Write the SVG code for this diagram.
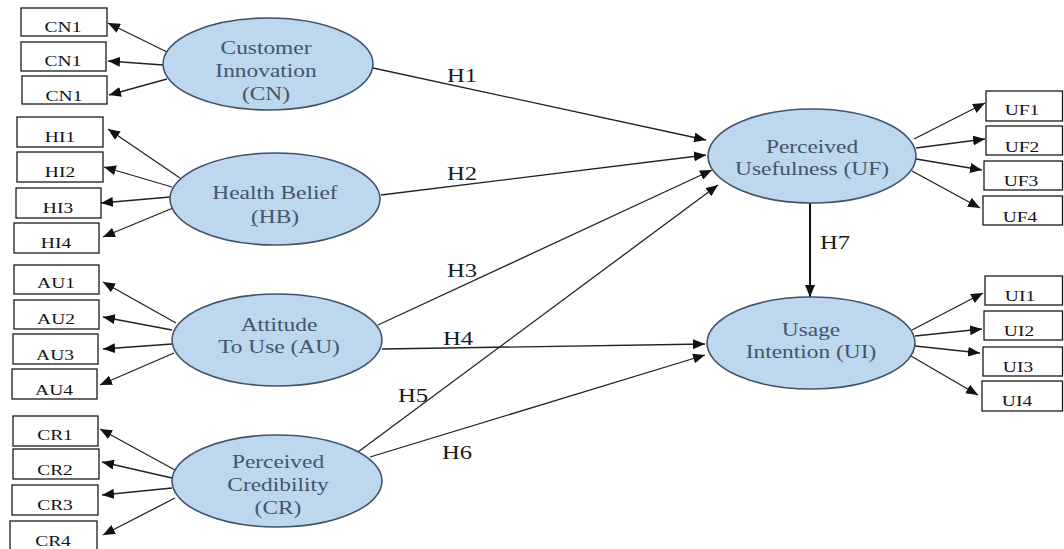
<svg xmlns="http://www.w3.org/2000/svg" width="1064" height="549" viewBox="0 0 1064 549">
  <style>
    .bg { fill: #ffffff; }
    .latent { fill: #bdd7ee; stroke: #41536b; stroke-width: 1.6; }
    .item { fill: #ffffff; stroke: #1a1a1a; stroke-width: 1.3; }
    .ltext { font-family: "Liberation Serif", "Times New Roman", serif; font-size: 18px; fill: #44546a; text-anchor: middle; }
    .itext { font-family: "Liberation Serif", "Times New Roman", serif; font-size: 15px; fill: #111111; text-anchor: middle; }
    .htext { font-family: "Liberation Serif", "Times New Roman", serif; font-size: 19px; fill: #1a1a1a; text-anchor: middle; }
    .edge { fill: none; stroke: #222222; stroke-width: 1.3; marker-end: url(#arrow); }
    .edge-bold { fill: none; stroke: #111111; stroke-width: 2; marker-end: url(#arrow); }
  </style>
  <defs>
    <marker id="arrow" markerUnits="userSpaceOnUse" markerWidth="12" markerHeight="10" refX="12" refY="5" orient="auto">
      <path d="M0,0 L12,5 L0,10 Z" fill="#111111"/>
    </marker>
  </defs>

  <rect class="bg" x="0" y="0" width="1064" height="549"/>

  <!-- structural and measurement paths -->
  <g id="connectors">
    <!-- CN indicators -->
    <line class="edge" x1="167" y1="52" x2="108" y2="23"/>
    <line class="edge" x1="163" y1="65" x2="108" y2="61"/>
    <line class="edge" x1="167" y1="79" x2="109" y2="95"/>
    <!-- HB indicators -->
    <line class="edge" x1="180" y1="178" x2="108" y2="129"/>
    <line class="edge" x1="172" y1="187" x2="104" y2="167"/>
    <line class="edge" x1="170" y1="197" x2="101" y2="203"/>
    <line class="edge" x1="173" y1="208" x2="103" y2="237"/>
    <!-- AU indicators -->
    <line class="edge" x1="176" y1="323" x2="103" y2="282"/>
    <line class="edge" x1="172" y1="330" x2="103" y2="317"/>
    <line class="edge" x1="172" y1="344" x2="103" y2="349"/>
    <line class="edge" x1="174" y1="353" x2="100" y2="385"/>
    <!-- CR indicators -->
    <line class="edge" x1="175" y1="470" x2="100" y2="429"/>
    <line class="edge" x1="172" y1="478" x2="102" y2="462"/>
    <line class="edge" x1="172" y1="488" x2="102" y2="495"/>
    <line class="edge" x1="175" y1="498" x2="103" y2="535"/>
    <!-- hypotheses -->
    <line class="edge" x1="373" y1="68" x2="706" y2="140"/>
    <line class="edge" x1="381" y1="195" x2="706" y2="155"/>
    <line class="edge" x1="378" y1="325" x2="712" y2="170"/>
    <line class="edge" x1="382" y1="349" x2="705" y2="344"/>
    <line class="edge" x1="358" y1="452" x2="718" y2="185"/>
    <line class="edge" x1="370" y1="457" x2="705" y2="355"/>
    <line class="edge-bold" x1="810" y1="203" x2="810" y2="297"/>
    <!-- UF indicators -->
    <line class="edge" x1="914" y1="139" x2="985" y2="103"/>
    <line class="edge" x1="916" y1="148" x2="985" y2="139"/>
    <line class="edge" x1="916" y1="159" x2="982" y2="170"/>
    <line class="edge" x1="912" y1="171" x2="980" y2="208"/>
    <!-- UI indicators -->
    <line class="edge" x1="912" y1="330" x2="983" y2="293"/>
    <line class="edge" x1="915" y1="336" x2="982" y2="329"/>
    <line class="edge" x1="915" y1="346" x2="980" y2="353"/>
    <line class="edge" x1="911" y1="356" x2="978" y2="395"/>
  </g>

  <!-- hypothesis labels -->
  <g id="labels">
    <text class="htext" transform="translate(462 82) scale(1.3 1)">H1</text>
    <text class="htext" transform="translate(462 180) scale(1.3 1)">H2</text>
    <text class="htext" transform="translate(462 277) scale(1.3 1)">H3</text>
    <text class="htext" transform="translate(458 345) scale(1.3 1)">H4</text>
    <text class="htext" transform="translate(413 402) scale(1.3 1)">H5</text>
    <text class="htext" transform="translate(457 459) scale(1.3 1)">H6</text>
    <text class="htext" transform="translate(835 249) scale(1.3 1)">H7</text>
  </g>

  <!-- latent constructs -->
  <g id="node-CN">
    <ellipse class="latent" cx="268" cy="64" rx="105" ry="46"/>
    <text class="ltext" transform="translate(266 54) scale(1.3 1)">Customer</text>
    <text class="ltext" transform="translate(266 77) scale(1.3 1)">Innovation</text>
    <text class="ltext" transform="translate(266 100) scale(1.3 1)">(CN)</text>
  </g>
  <g id="node-HB">
    <ellipse class="latent" cx="275" cy="199" rx="105" ry="46"/>
    <text class="ltext" transform="translate(275 199) scale(1.3 1)">Health Belief</text>
    <text class="ltext" transform="translate(275 223) scale(1.3 1)">(HB)</text>
    <path d="M251 226 Q253 224.5 255 226" fill="none" stroke="#4472c4" stroke-width="1"/>
  </g>
  <g id="node-AU">
    <ellipse class="latent" cx="277" cy="340" rx="105" ry="46"/>
    <text class="ltext" transform="translate(279 331) scale(1.3 1)">Attitude</text>
    <text class="ltext" transform="translate(279 353) scale(1.3 1)">To Use (AU)</text>
  </g>
  <g id="node-CR">
    <ellipse class="latent" cx="277" cy="481" rx="105" ry="46"/>
    <text class="ltext" transform="translate(278 468) scale(1.3 1)">Perceived</text>
    <text class="ltext" transform="translate(278 491) scale(1.3 1)">Credibility</text>
    <text class="ltext" transform="translate(278 514) scale(1.3 1)">(CR)</text>
  </g>
  <g id="node-UF">
    <ellipse class="latent" cx="812" cy="156" rx="104" ry="47"/>
    <text class="ltext" transform="translate(812 153) scale(1.3 1)">Perceived</text>
    <text class="ltext" transform="translate(812 175) scale(1.3 1)">Usefulness (UF)</text>
  </g>
  <g id="node-UI">
    <ellipse class="latent" cx="811" cy="343" rx="104" ry="46"/>
    <text class="ltext" transform="translate(811 336) scale(1.3 1)">Usage</text>
    <text class="ltext" transform="translate(811 358) scale(1.3 1)">Intention (UI)</text>
  </g>

  <!-- indicator boxes: CN -->
  <g id="node-CN1-a"><rect class="item" x="21" y="8" width="86" height="28"/><text class="itext" transform="translate(63 32) scale(1.3 1)">CN1</text></g>
  <g id="node-CN1-b"><rect class="item" x="21" y="42" width="85" height="29"/><text class="itext" transform="translate(63 66) scale(1.3 1)">CN1</text></g>
  <g id="node-CN1-c"><rect class="item" x="22" y="76" width="85" height="28"/><text class="itext" transform="translate(64 101) scale(1.3 1)">CN1</text></g>
  <!-- HB -->
  <g id="node-HI1"><rect class="item" x="17" y="117" width="86" height="30"/><text class="itext" transform="translate(60 142) scale(1.3 1)">HI1</text></g>
  <g id="node-HI2"><rect class="item" x="17" y="152" width="86" height="30"/><text class="itext" transform="translate(60 177) scale(1.3 1)">HI2</text></g>
  <g id="node-HI3"><rect class="item" x="16" y="188" width="85" height="30"/><text class="itext" transform="translate(58 213) scale(1.3 1)">HI3</text></g>
  <g id="node-HI4"><rect class="item" x="14" y="223" width="85" height="30"/><text class="itext" transform="translate(56 248) scale(1.3 1)">HI4</text></g>
  <!-- AU -->
  <g id="node-AU1"><rect class="item" x="14" y="265" width="85" height="29"/><text class="itext" transform="translate(56 288) scale(1.3 1)">AU1</text></g>
  <g id="node-AU2"><rect class="item" x="14" y="300" width="85" height="29"/><text class="itext" transform="translate(56 324) scale(1.3 1)">AU2</text></g>
  <g id="node-AU3"><rect class="item" x="13" y="334" width="85" height="30"/><text class="itext" transform="translate(55 360) scale(1.3 1)">AU3</text></g>
  <g id="node-AU4"><rect class="item" x="12" y="369" width="85" height="30"/><text class="itext" transform="translate(54 395) scale(1.3 1)">AU4</text></g>
  <!-- CR -->
  <g id="node-CR1"><rect class="item" x="13" y="416" width="85" height="30"/><text class="itext" transform="translate(55 440) scale(1.3 1)">CR1</text></g>
  <g id="node-CR2"><rect class="item" x="13" y="449" width="86" height="30"/><text class="itext" transform="translate(55 475) scale(1.3 1)">CR2</text></g>
  <g id="node-CR3"><rect class="item" x="12" y="485" width="86" height="30"/><text class="itext" transform="translate(55 510) scale(1.3 1)">CR3</text></g>
  <g id="node-CR4"><rect class="item" x="10" y="521" width="87" height="32"/><text class="itext" transform="translate(53 546) scale(1.3 1)">CR4</text></g>
  <!-- UF -->
  <g id="node-UF1"><rect class="item" x="986" y="91" width="76.5" height="30"/><text class="itext" transform="translate(1022 115) scale(1.3 1)">UF1</text></g>
  <g id="node-UF2"><rect class="item" x="986" y="126" width="76.5" height="29"/><text class="itext" transform="translate(1022 152) scale(1.3 1)">UF2</text></g>
  <g id="node-UF3"><rect class="item" x="984" y="161" width="78.5" height="29"/><text class="itext" transform="translate(1021 186) scale(1.3 1)">UF3</text></g>
  <g id="node-UF4"><rect class="item" x="983" y="196" width="79.5" height="29"/><text class="itext" transform="translate(1020 222) scale(1.3 1)">UF4</text></g>
  <!-- UI -->
  <g id="node-UI1"><rect class="item" x="985" y="276" width="77.5" height="29"/><text class="itext" transform="translate(1020 301) scale(1.3 1)">UI1</text></g>
  <g id="node-UI2"><rect class="item" x="984" y="311" width="78.5" height="29"/><text class="itext" transform="translate(1019 336) scale(1.3 1)">UI2</text></g>
  <g id="node-UI3"><rect class="item" x="983" y="347" width="79.5" height="29"/><text class="itext" transform="translate(1018 372) scale(1.3 1)">UI3</text></g>
  <g id="node-UI4"><rect class="item" x="982" y="381" width="80.5" height="30"/><text class="itext" transform="translate(1017 406) scale(1.3 1)">UI4</text></g>
</svg>
